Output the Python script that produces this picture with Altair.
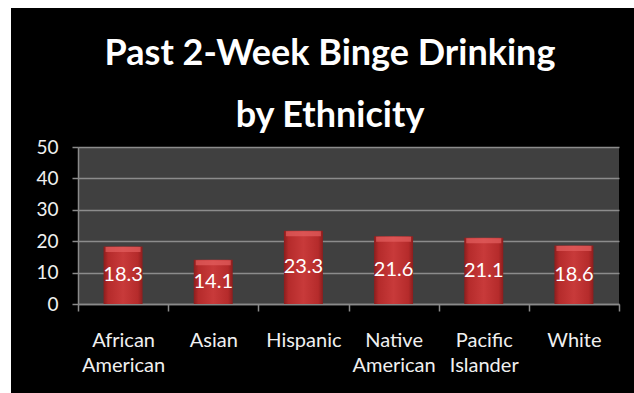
import altair as alt
import pandas as pd

categories = ["African American", "Asian", "Hispanic", "Native American", "Pacific Islander", "White"]
values = [18.3, 14.1, 23.3, 21.6, 21.1, 18.6]
title_lines = ["Past 2-Week Binge Drinking", "by Ethnicity"]
y_ticks = [0, 10, 20, 30, 40, 50]

df = pd.DataFrame({"cat": categories, "val": values})

FONT = "Lato"
W, H = 541, 157
PAD = {"left": 78, "top": 147, "right": 15, "bottom": 89}

x_axis = alt.Axis(labelAngle=0, labelExpr="split(datum.label, ' ')",
                  labelFont=FONT, labelFontSize=20, labelColor="#f0f0f0",
                  labelLineHeight=25, labelPadding=19, labelBaseline="top",
                  tickBand="extent", tickSize=7, tickColor="#8a8a8a", tickWidth=1.5,
                  domainColor="#8a8a8a", domainWidth=1.5, grid=False, title=None)
y_axis = alt.Axis(values=y_ticks, labelOverlap=False, labelFont=FONT, labelFontSize=19,
                  labelColor="#f0f0f0", labelPadding=14, tickSize=6,
                  tickColor="#8a8a8a", tickWidth=1.5, domainColor="#8a8a8a",
                  domainWidth=1.5, gridColor="#8c8c8c", gridWidth=1.5, title=None)
x_scale = alt.Scale(paddingInner=0, paddingOuter=0)
y_scale = alt.Scale(domain=[0, 50], nice=False)

def X():
    return alt.X("cat:N", sort=categories, scale=x_scale, axis=x_axis)

def Y(field):
    return alt.Y(field, scale=y_scale, axis=y_axis)

base = alt.Chart(df)

grad = alt.Gradient(
    gradient="linear",
    stops=[
        alt.GradientStop(color="#8c1d1d", offset=0),
        alt.GradientStop(color="#b52b2b", offset=0.12),
        alt.GradientStop(color="#c83a3a", offset=0.5),
        alt.GradientStop(color="#b52b2b", offset=0.88),
        alt.GradientStop(color="#8c1d1d", offset=1),
    ],
    x1=0, x2=1, y1=0, y2=0,
)

bars = base.mark_bar(size=39, color=grad).encode(x=X(), y=Y("val:Q"))
bevel = base.mark_tick(size=35, thickness=5, color="#e46060", yOffset=3).encode(
    x=X(), y=Y("val:Q"))
labels = base.transform_calculate(mid="datum.val / 2").mark_text(
    font=FONT, fontSize=20, color="white", baseline="middle", align="center"
).encode(x=X(), y=Y("mid:Q"), text=alt.Text("val:Q", format=".1f"))

one = alt.Chart(pd.DataFrame({"k": [0]}))
title1 = one.mark_text(font=FONT, fontSize=36, fontWeight="bold", color="white",
                       align="center", baseline="alphabetic", clip=False).encode(
    x=alt.value(252), y=alt.value(-82), text=alt.value(title_lines[0]))
title2 = one.mark_text(font=FONT, fontSize=36, fontWeight="bold", color="white",
                       align="center", baseline="alphabetic", clip=False).encode(
    x=alt.value(252), y=alt.value(-20), text=alt.value(title_lines[1]))

# white frame strips at the left and top edges of the picture
strip_left = one.mark_rect(color="white", clip=False).encode(
    x=alt.value(-PAD["left"]), x2=alt.value(-PAD["left"] + 11),
    y=alt.value(-PAD["top"]), y2=alt.value(H + PAD["bottom"]))
strip_top = one.mark_rect(color="white", clip=False).encode(
    x=alt.value(-PAD["left"]), x2=alt.value(W + PAD["right"]),
    y=alt.value(-PAD["top"]), y2=alt.value(-PAD["top"] + 8))

chart = alt.layer(strip_left, strip_top, bars, bevel, labels, title1, title2).properties(
    width=W, height=H,
    padding=PAD,
    autosize=alt.AutoSizeParams(type="none"),
    background="black",
).configure_view(fill="#404040", stroke=None)

chart.save("out.html", embed_options={"renderer": "svg", "actions": False})
